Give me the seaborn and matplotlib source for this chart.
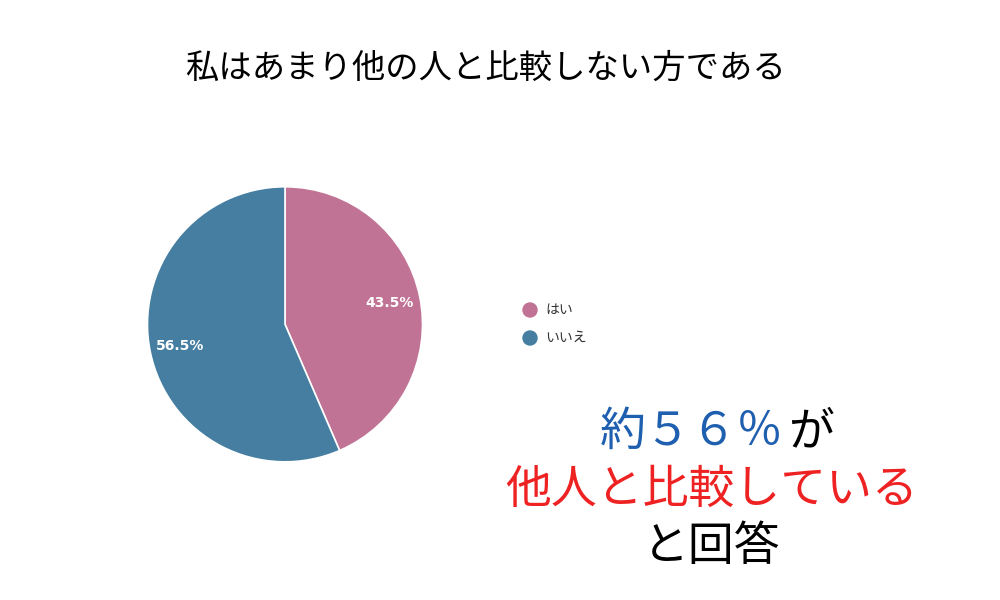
import matplotlib
matplotlib.use("Agg")
import matplotlib.pyplot as plt
import seaborn as sns

labels = ["はい", "いいえ"]
values = [43.5, 56.5]
colors = ["#C07394", "#457EA0"]

sns.set_theme(style="white")
plt.rcParams["font.family"] = ["Noto Sans CJK JP", "DejaVu Sans"]

fig = plt.figure(figsize=(10, 6), dpi=100)
fig.patch.set_facecolor("white")

ax = fig.add_axes([0.113, 0.173, 0.344, 0.573])
wedges, texts, autotexts = ax.pie(
    values, colors=colors, startangle=90, counterclock=False,
    autopct="%.1f%%", pctdistance=0.78,
    wedgeprops=dict(edgecolor="white", linewidth=1.2),
    textprops=dict(color="white", fontsize=10, fontweight="bold",
                   family=["DejaVu Sans"]))
ax.set_aspect("equal")

# legend
for i, (lab, col) in enumerate(zip(labels, colors)):
    y = 1 - (310 + 28 * i) / 600
    fig.patches.append(matplotlib.patches.Ellipse(
        (0.530, y), 0.014, 0.014 * 10 / 6, color=col, transform=fig.transFigure))
    fig.text(0.545, y, lab, fontsize=10, va="center", color="#333333")

fig.text(0.485, 1 - 68 / 600, "私はあまり他の人と比較しない方である",
         fontsize=24, ha="center", va="center", color="black")

fs = 33
cw = 47 / 1000
x0 = 0.600
fig.text(x0, 1 - 432 / 600, "約５６％", fontsize=fs, color="#1F5FB0", va="center")
fig.text(x0 + 4 * cw, 1 - 432 / 600, "が", fontsize=fs, color="black", va="center")
fig.text(0.712, 1 - 490 / 600, "他人と比較している", fontsize=fs, color="#EE2222",
         ha="center", va="center")
fig.text(0.712, 1 - 547 / 600, "と回答", fontsize=fs, color="black",
         ha="center", va="center")

fig.savefig("out.png", dpi=100)
